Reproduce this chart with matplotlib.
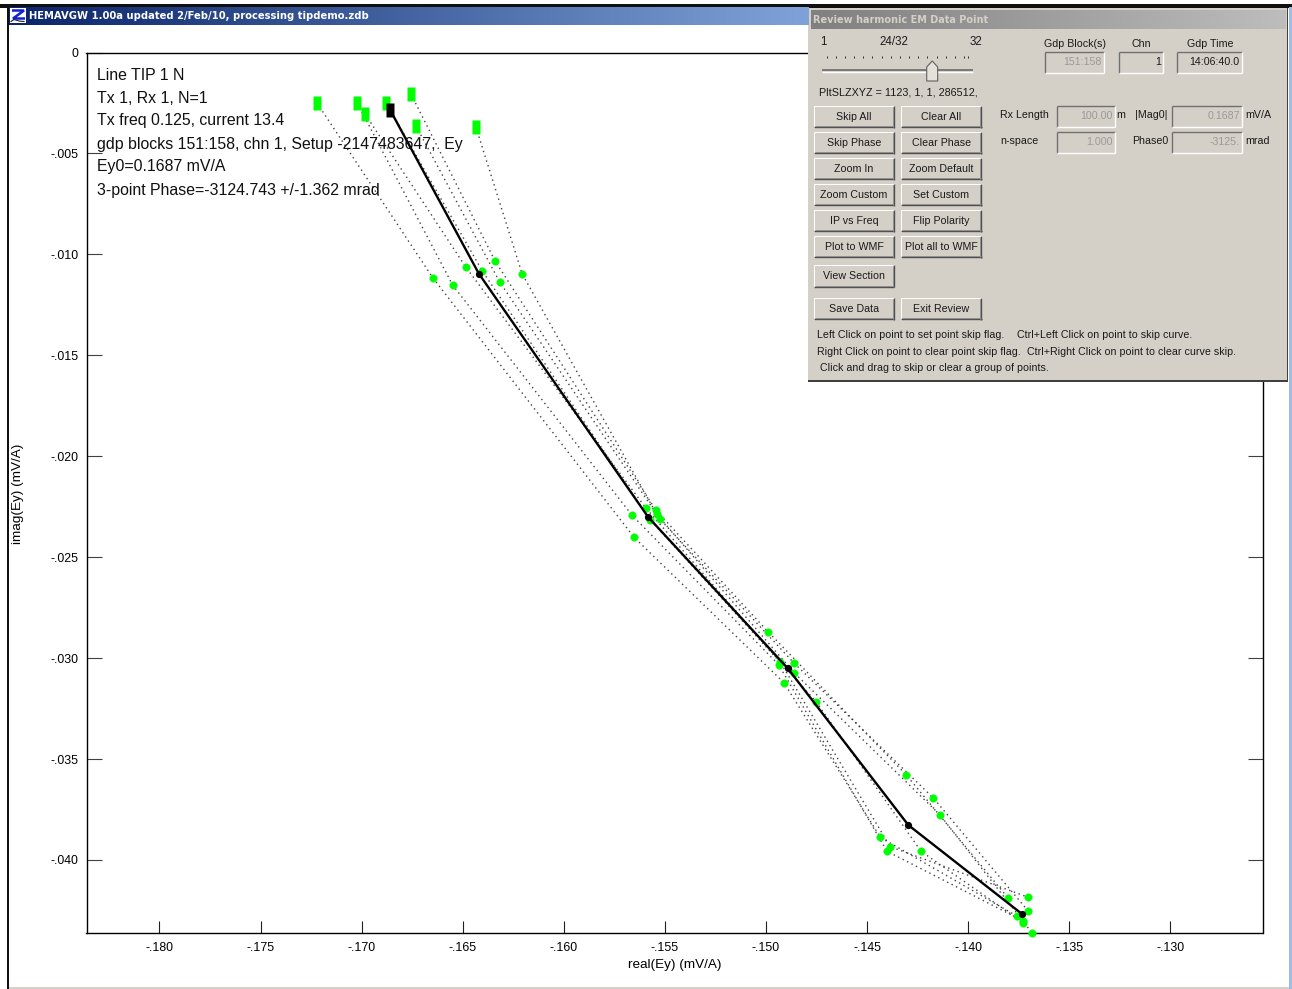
import numpy as np
import matplotlib
matplotlib.use("Agg")
import matplotlib.pyplot as plt
from matplotlib.patches import Rectangle, Polygon
from matplotlib.path import Path

W, H = 1292, 989
plt.rcParams['font.family'] = ['Liberation Sans', 'DejaVu Sans']

# ---- data: one dotted curve per gdp block, first point is the low frequency (square)
real_1 = [-172.21, -166.48, -156.52, -149.11, -144.34, -137.57]
imag_1 = [-.00250, -.01116, -.02402, -.03122, -.03888, -.04279]
real_2 = [-170.22, -165.50, -156.62, -149.37, -144.01, -137.30]
imag_2 = [-.00250, -.01152, -.02293, -.03033, -.03957, -.04301]
real_3 = [-169.83, -164.85, -155.93, -149.30, -143.86, -137.02]
imag_3 = [-.00305, -.01063, -.02258, -.03018, -.03934, -.04185]
real_4 = [-168.79, -164.04, -155.72, -147.52, -142.33, -137.27]
imag_4 = [-.00250, -.01081, -.02316, -.03216, -.03957, -.04311]
real_5 = [-167.56, -163.40, -155.44, -149.90, -143.06, -138.01]
imag_5 = [-.00206, -.01033, -.02268, -.02869, -.03579, -.04190]
real_6 = [-167.31, -163.17, -155.24, -148.60, -141.72, -137.02]
imag_6 = [-.00364, -.01137, -.02312, -.03026, -.03693, -.04254]
real_7 = [-164.35, -162.06, -155.40, -148.61, -141.39, -136.82]
imag_7 = [-.00369, -.01097, -.02288, -.03072, -.03777, -.04363]
real_mean = [-168.59, -164.20, -155.83, -148.92, -142.96, -137.33]
imag_mean = [-.00285, -.01096, -.02301, -.03051, -.03827, -.04268]

x_ticks = [-180, -175, -170, -165, -160, -155, -150, -145, -140, -135, -130]
x_tick_labels = ['-.180', '-.175', '-.170', '-.165', '-.160', '-.155', '-.150', '-.145', '-.140', '-.135', '-.130']
y_ticks = [0, -.005, -.010, -.015, -.020, -.025, -.030, -.035, -.040]
y_tick_labels = ['0', '-.005', '-.010', '-.015', '-.020', '-.025', '-.030', '-.035', '-.040']

info_lines = ['Line TIP 1 N', 'Tx 1, Rx 1, N=1', 'Tx freq 0.125, current 13.4',
              'gdp blocks 151:158, chn 1, Setup -2147483647,  Ey',
              'Ey0=0.1687 mV/A', '3-point Phase=-3124.743 +/-1.362 mrad']

curves = [(real_1, imag_1), (real_2, imag_2), (real_3, imag_3), (real_4, imag_4),
          (real_5, imag_5), (real_6, imag_6), (real_7, imag_7)]

fig = plt.figure(figsize=(W / 100, H / 100), dpi=100, facecolor='white')

# ---- plot axes
L, R, T, B = 86.5, 1262.5, 52.5, 933.3
ax = fig.add_axes([L / W, 1 - B / H, (R - L) / W, (B - T) / H], zorder=1)
ax.set_xlim(-180 + (L - 159.5) / 20.216, -180 + (R - 159.5) / 20.216)
ax.set_ylim(-(B - 52.5) / 20187, 0)
for s in ax.spines.values():
    s.set_linewidth(1.0)
    s.set_color('black')
ax.set_xticks(x_ticks, x_tick_labels)
ax.set_yticks(y_ticks, y_tick_labels)
ax.tick_params(axis='x', direction='in', length=8.6, width=0.8, pad=6, labelsize=8.9, color='#202020')
ax.tick_params(axis='y', direction='in', length=10.8, width=0.8, pad=5.8, labelsize=8.9, right=True, color='#404040')
ax.set_xlabel('real(Ey) (mV/A)', fontsize=9.7, labelpad=4)
ax.set_ylabel('imag(Ey) (mV/A)', fontsize=9.7, va='center')
ax.yaxis.set_label_coords((18 - L) / (R - L), 1 - (494 - T) / (B - T))

tall = Path([(-0.5, -1), (0.5, -1), (0.5, 1), (-0.5, 1), (-0.5, -1)], closed=True)
for xs, ys in curves:
    ax.plot(xs, ys, color='#404040', lw=1.0, ls=(0, (1, 2.6)), zorder=2, clip_on=False)
for xs, ys in curves:
    ax.plot(xs[0], ys[0], ls='none', marker=tall, ms=10.1, mfc='#00FF00', mec='none', zorder=3, clip_on=False)
    ax.plot(xs[1:], ys[1:], ls='none', marker='o', ms=5.4, mfc='#00FF00', mec='#00FF00', mew=0.3, zorder=3, clip_on=False)
ax.plot(real_mean, imag_mean, color='black', lw=1.7, zorder=4, clip_on=False)
ax.plot(real_mean[0], imag_mean[0], ls='none', marker=tall, ms=10.1, mfc='black', mec='none', zorder=5)
ax.plot(real_mean[1:], imag_mean[1:], ls='none', marker='o', ms=5.2, mfc='black', mec='none', zorder=5, clip_on=False)

# ---- window chrome and dialog, drawn in pixel coordinates
ui = fig.add_axes([0, 0, 1, 1], zorder=5)
ui.patch.set_alpha(0)
ui.set_axis_off()


def rect(x0, y0, x1, y1, fc, z=1):
    ui.add_patch(Rectangle((x0, y0), x1 - x0, y1 - y0, fc=fc, ec='none', zorder=z))


def line(x0, y0, x1, y1, c, lw=0.72, z=3):
    ui.plot([x0, x1], [y0, y1], color=c, lw=lw, zorder=z, solid_capstyle='butt')


def label(x, y, s, size=7.65, ha='left', color='#1a1a1a', **kw):
    ui.text(x, y, s, fontsize=size, ha=ha, va='center', color=color, zorder=6, **kw)


def gradient(x0, y0, x1, y1, c0, c1, z=2):
    c0 = np.array(matplotlib.colors.to_rgb(c0))
    c1 = np.array(matplotlib.colors.to_rgb(c1))
    t = np.linspace(0, 1, 256)[None, :, None]
    ui.imshow(c0 + (c1 - c0) * t, extent=(x0, x1, y1, y0), aspect='auto', zorder=z, interpolation='bilinear')


def button(x0, y0, x1, y1, s):
    line(x0, y0, x1, y0, 'white')
    line(x0, y0, x0, y1, 'white')
    line(x0, y1 - 0.5, x1, y1 - 0.5, '#505050', 1.0)
    line(x1 - 0.5, y0, x1 - 0.5, y1, '#505050', 1.0)
    line(x0 + 1, y1 - 1.5, x1 - 1, y1 - 1.5, '#909090')
    line(x1 - 1.5, y0 + 1, x1 - 1.5, y1 - 1, '#909090')
    label((x0 + x1) / 2, (y0 + y1) / 2, s, ha='center')


def field(x0, y0, x1, y1, s, enabled=False):
    line(x0, y0, x1, y0, '#707070', 1.0)
    line(x0, y0, x0, y1, '#707070', 1.0)
    line(x0, y1, x1, y1, 'white', 1.0)
    line(x1, y0, x1, y1, 'white', 1.0)
    label(x1 - 2.5, (y0 + y1) / 2 - 0.5, s, ha='right', color='#1a1a1a' if enabled else '#9a9a9a')


# main window frame
rect(0, 4, W, 7.5, '#101010')
rect(6.5, 4, 9.3, H, '#101010')
rect(W - 3, 7, W, H, '#9DBDE8')
rect(9.3, H - 2.5, W - 3, H, '#D4D0C8')
gradient(9.3, 7.5, 809, 25, '#0A246A', '#7FA3D8')
rect(10, 8.3, 26, 22.7, 'white', 3)
ui.plot([12, 24, 13, 25], [10.5, 10.5, 18.5, 18.5], color='#1020D8', lw=1.8, zorder=4,
        solid_joinstyle='miter', solid_capstyle='butt')
ui.plot([11, 14, 19, 24], [21.5, 19.5, 21, 21.5], color='#202020', lw=0.8, zorder=4)
label(29, 16.2, 'HEMAVGW 1.00a updated 2/Feb/10, processing tipdemo.zdb', size=7.2,
      color='white', fontweight='bold', family=['DejaVu Sans'])

# dialog body
rect(807.7, 7.5, 1288.2, 381.5, '#404040', 1)
rect(808.3, 8.2, 1287, 380.2, '#D4D0C8', 1)
gradient(810.7, 10, 1285, 28.7, '#808080', '#BDBDBD')
label(813, 20, 'Review harmonic EM Data Point', size=7.0, color='#D4D0C8', fontweight='bold',
      family=['DejaVu Sans'])

# slider
label(823.3, 41.7, '1', ha='center', size=8.3)
label(894.3, 41.7, '24/32', ha='center', size=8.3)
label(976, 41.7, '32', ha='center', size=8.3)
for px in [826.7, 835.7, 845, 854, 863.3, 872.3, 881.7, 890.7, 900, 909, 918.3, 927.3, 936.7, 945.7, 955, 964, 968.3]:
    line(px, 55.5, px, 58, '#303030')
line(821.7, 70.2, 973.3, 70.2, '#606060', 1.1)
line(821.7, 71.6, 973.3, 71.6, 'white', 1.0)
ui.add_patch(Polygon([(926.7, 67), (932.2, 61), (937.7, 67), (937.7, 81), (926.7, 81)],
                     closed=True, fc='#E4E1DB', ec='#606060', lw=0.8, zorder=4))
label(819, 92.3, 'PltSLZXYZ = 1123, 1, 1, 286512,', size=7.75)

# top fields
label(1075, 44, 'Gdp Block(s)', ha='center')
field(1045.3, 51.7, 1104.3, 73.3, '151:158')
label(1141.7, 44, 'Chn', ha='center')
field(1119.3, 51.7, 1163.3, 73.3, '1', enabled=True)
label(1210, 44, 'Gdp Time', ha='center')
field(1177.3, 51.7, 1242.3, 73.3, '14:06:40.0', enabled=True)

# buttons
bx = [(813.7, 894.3), (901, 981.7)]
rows = [(105.7, 127.7, 'Skip All', 'Clear All'),
        (131.7, 153.7, 'Skip Phase', 'Clear Phase'),
        (157.7, 179.7, 'Zoom In', 'Zoom Default'),
        (183.7, 205.7, 'Zoom Custom', 'Set Custom'),
        (209.7, 231.7, 'IP vs Freq', 'Flip Polarity'),
        (235.7, 257.7, 'Plot to WMF', 'Plot all to WMF'),
        (265, 287, 'View Section', None),
        (297.7, 319.7, 'Save Data', 'Exit Review')]
for y0, y1, a, b in rows:
    button(bx[0][0], y0, bx[0][1], y1, a)
    if b:
        button(bx[1][0], y0, bx[1][1], y1, b)

# right fields
label(1000, 115, 'Rx Length')
field(1056.7, 105.7, 1115, 127, '100.00')
label(1116.7, 115, 'm')
label(1135, 115, '|Mag0|')
field(1171.7, 105.7, 1242.3, 127, '0.1687')
label(1245.7, 115, 'mV/A')
label(1000, 141.3, 'n-space')
field(1056.7, 131.7, 1115, 153.3, '1.000')
label(1132.3, 141.3, 'Phase0')
field(1171.7, 131.7, 1242.3, 153.3, '-3125.')
label(1245.7, 141.3, 'mrad')

# help text
label(817, 335, 'Left Click on point to set point skip flag.')
label(1017.3, 335, 'Ctrl+Left Click on point to skip curve.')
label(817, 351.7, 'Right Click on point to clear point skip flag.')
label(1027.3, 351.7, 'Ctrl+Right Click on point to clear curve skip.')
label(820, 367.7, 'Click and drag to skip or clear a group of points.')

# annotation block in the plot
for s, y in zip(info_lines, [76, 98.5, 121, 144, 167, 190]):
    ui.text(97, y, s, fontsize=11.45, ha='left', va='center', color='#101010', zorder=6)

ui.set_xlim(0, W)
ui.set_ylim(H, 0)

fig.savefig('out.png', dpi=100)
